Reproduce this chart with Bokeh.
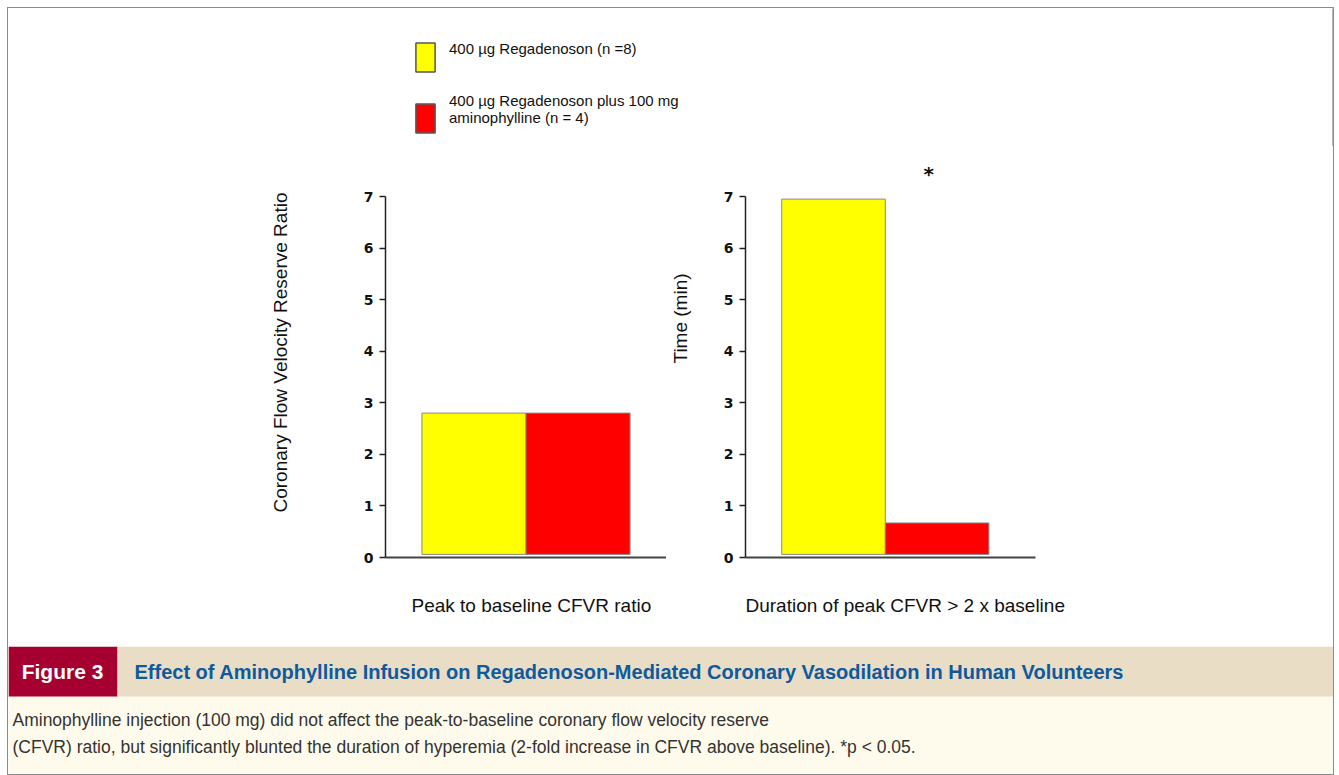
from bokeh.plotting import figure
from bokeh.models import Range1d, FixedTicker, Label, Legend, LegendItem, ColumnDataSource, Title
from bokeh.layouts import column, row
from bokeh.embed import file_html
from bokeh.resources import INLINE

# ---------------- data ----------------
groups = ["400 µg Regadenoson (n =8)",
          "400 µg Regadenoson plus 100 mg\naminophylline (n = 4)"]
colors = ["#FFFF00", "#FF0000"]
positions = [0.85, 1.85]
peak_cfvr = [2.80, 2.80]          # Peak to baseline CFVR ratio
duration_min = [6.95, 0.67]       # Duration of peak CFVR > 2 x baseline (min)
yticks = [0, 1, 2, 3, 4, 5, 6, 7]
x_titles = ["Peak to baseline CFVR ratio", "Duration of peak CFVR  > 2 x baseline"]
y_titles = ["Coronary Flow Velocity Reserve Ratio", "Time (min)"]
fig_label = "Figure 3"
fig_title = "Effect of Aminophylline Infusion on Regadenoson-Mediated Coronary Vasodilation in Human Volunteers"
caption_lines = ["Aminophylline injection (100 mg) did not affect the peak-to-baseline coronary flow velocity reserve",
                 "(CFVR) ratio, but significantly blunted the duration of hyperemia (2-fold increase in CFVR above baseline). *p < 0.05."]

SANS = "'Liberation Sans', Arial, sans-serif"
TICKF = "'DejaVu Sans'"
W = 1325
NB = "\u00a0"   # blank spacer line used to push titles outward

TOP_H = 138
PANEL_H = 500
MB_TOP = 50


def panel(width, mbl, mbr, xend, values, ytitle, yt_stand, yt_off, yt_lh, xtitle, xt_off):
    p = figure(width=width, height=PANEL_H, x_range=Range1d(0, xend), y_range=Range1d(0, 7),
               output_backend="svg", toolbar_location=None,
               min_border_left=mbl, min_border_right=mbr, min_border_top=MB_TOP, min_border_bottom=89)
    p.grid.visible = False
    p.outline_line_color = None
    src = ColumnDataSource(dict(x=positions, top=values, color=colors, bottom=[0.06, 0.06]))
    p.vbar(x="x", top="top", bottom="bottom", width=1.0, source=src,
           fill_color="color", line_color="#8a8a8a", line_width=1)
    ya = p.yaxis[0]
    ya.ticker = FixedTicker(ticks=yticks)
    ya.major_tick_out = 6
    ya.major_tick_in = 0
    ya.minor_tick_out = 0
    ya.minor_tick_in = 0
    ya.axis_line_color = "#222222"
    ya.axis_line_width = 1.5
    ya.major_tick_line_color = "#222222"
    ya.major_tick_line_width = 1.5
    ya.major_label_text_font = TICKF
    ya.major_label_text_font_style = "bold"
    ya.major_label_text_font_size = "14px"
    ya.major_label_text_color = "#111111"
    ya.major_label_standoff = 6
    xa = p.xaxis[0]
    xa.ticker = FixedTicker(ticks=[])
    xa.major_tick_out = 0
    xa.minor_tick_out = 0
    xa.major_label_text_font_size = "0px"
    xa.axis_line_color = "#444444"
    xa.axis_line_width = 2
    p.add_layout(Title(text=ytitle, align="left", offset=yt_off, standoff=yt_stand,
                       text_font=SANS, text_font_style="normal", text_font_size="19px",
                       text_line_height=yt_lh, text_color="#111111"), "left")
    p.add_layout(Title(text=NB + "\n" + xtitle, align="left", offset=xt_off, standoff=29,
                       text_font=SANS, text_font_style="normal", text_font_size="19px",
                       text_color="#111111"), "below")
    return p


# left panel: figure x 8..666, frame 385..666 ; right panel: figure 666..1333, frame 745..1035
left = panel(658, 377, 0, 2.70, peak_cfvr, y_titles[0], 139, 45, 1.0, x_titles[0], 26)
right = panel(667, 79, 298, 2.80, duration_min, y_titles[1] + "\n" + NB, 1, 194, 1.4, x_titles[1], 0)
right.add_layout(Title(text="*", align="left", offset=178, standoff=22,
                       text_font=TICKF, text_font_style="bold", text_font_size="20px",
                       text_color="#111111"), "above")

# ---------------- legend band ----------------
top = figure(width=W, height=TOP_H, x_range=Range1d(0, 1), y_range=Range1d(0, 1),
             x_axis_type=None, y_axis_type=None, min_border=0,
             output_backend="svg", toolbar_location=None)
top.grid.visible = False
top.outline_line_color = None
r1 = top.vbar(x=[5], top=[5], width=1, fill_color=colors[0], line_color="#555555", line_width=1.5)
r2 = top.vbar(x=[5], top=[5], width=1, fill_color=colors[1], line_color="#555555", line_width=1.5)
legend = Legend(items=[LegendItem(label=groups[0] + "\n" + NB, renderers=[r1]),
                       LegendItem(label=groups[1] + "\n" + NB, renderers=[r2])],
                location=(405, 3), glyph_width=24, glyph_height=36, label_standoff=12,
                spacing=17, padding=0, margin=0, border_line_color=None,
                background_fill_alpha=0, label_text_font=SANS,
                label_text_font_size="15px", label_text_color="#111111")
top.add_layout(legend)

# ---------------- caption band ----------------
CH = 128
cap = figure(width=W, height=CH, x_range=Range1d(0, W), y_range=Range1d(CH, 0),
             x_axis_type=None, y_axis_type=None, min_border=0,
             output_backend="svg", toolbar_location=None)
cap.grid.visible = False
cap.outline_line_color = None
cap.background_fill_color = "#FFFBEC"
cap.border_fill_color = "#FFFBEC"
cap.quad(left=[0], right=[109], top=[0], bottom=[50], fill_color="#A50030", line_color=None)
cap.quad(left=[109], right=[W], top=[0], bottom=[50], fill_color="#E9DDC6", line_color=None)
cap.add_layout(Label(x=54, y=25, text=fig_label, text_align="center", text_baseline="middle",
                     text_font=SANS, text_font_style="bold", text_font_size="21px",
                     text_color="white"))
cap.add_layout(Label(x=126, y=25, text=fig_title, text_align="left", text_baseline="middle",
                     text_font=SANS, text_font_style="bold", text_font_size="20px",
                     text_color="#0E5A9E"))
for i, line in enumerate(caption_lines):
    cap.add_layout(Label(x=4, y=73 + 27 * i, text=line, text_align="left", text_baseline="middle",
                         text_font=SANS, text_font_size="17.5px", text_color="#333333"))

layout = column(top, row(left, right), cap, margin=(7, 0, 0, 7),
                styles={"border": "1px solid #8c8c8c"})

open("out.html", "w").write(file_html(layout, INLINE))
